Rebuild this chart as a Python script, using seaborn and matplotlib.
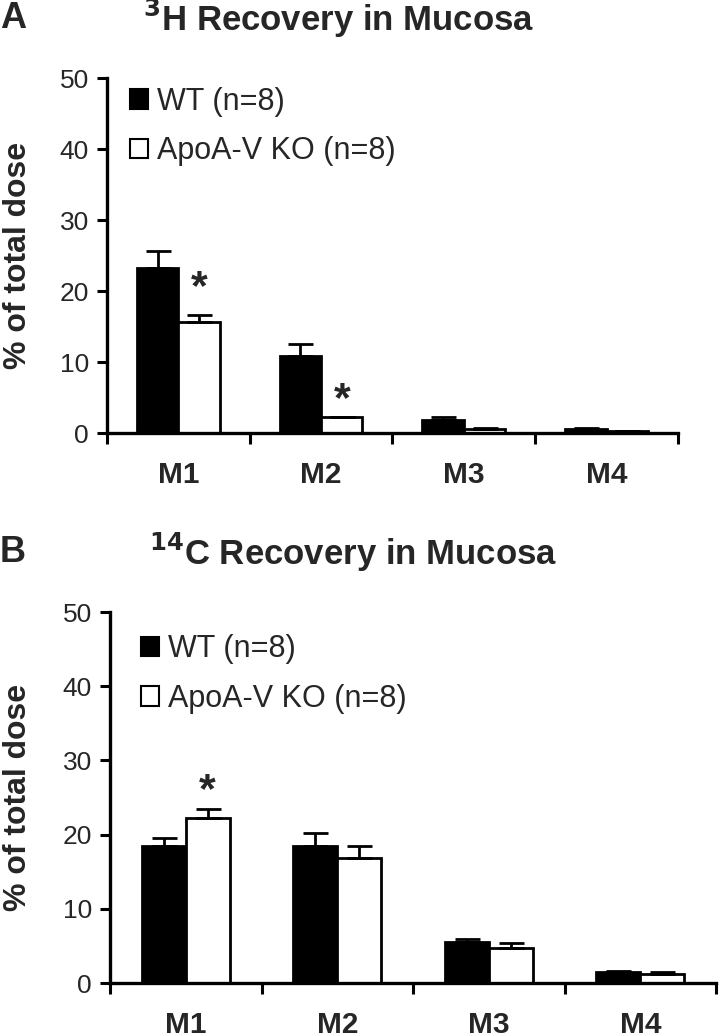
import numpy as np
import pandas as pd
import matplotlib
matplotlib.use("Agg")
import matplotlib.pyplot as plt
from matplotlib.container import BarContainer
import seaborn as sns

sns.set_style("white")
plt.rcParams['font.family'] = ['Liberation Sans', 'DejaVu Sans']

categories = ["M1", "M2", "M3", "M4"]
groups = ["WT (n=8)", "ApoA-V KO (n=8)"]

h3_wt = [23.3, 10.8, 1.85, 0.5]
h3_wt_err = [2.3, 1.8, 0.35, 0.15]
h3_ko = [15.6, 2.2, 0.6, 0.25]
h3_ko_err = [1.0, 0.1, 0.1, 0.05]
h3_stars = [("M1", 1, 20.4), ("M2", 1, 4.6)]

c14_wt = [18.5, 18.4, 5.55, 1.5]
c14_wt_err = [1.1, 1.8, 0.45, 0.17]
c14_ko = [22.3, 16.8, 4.74, 1.2]
c14_ko_err = [1.2, 1.6, 0.66, 0.24]
c14_stars = [("M1", 1, 25.9)]

yticks = [0, 10, 20, 30, 40, 50]

fig = plt.figure(figsize=(7.2, 10.34), dpi=100)
ax_a = fig.add_axes([0.1486, 0.5812, 0.793, 0.3433])
ax_b = fig.add_axes([0.1528, 0.0493, 0.8417, 0.3588])


def panel(ax, wt, wt_err, ko, ko_err, stars, leg_anchor, label_x):
    df = pd.DataFrame({
        "cat": categories * 2,
        "grp": [groups[0]] * 4 + [groups[1]] * 4,
        "val": list(wt) + list(ko),
    })
    sns.barplot(data=df, x="cat", y="val", hue="grp", order=categories,
                hue_order=groups, palette=["black", "white"], edgecolor="black",
                linewidth=2, width=0.58, errorbar=None, saturation=1, ax=ax)
    bars = [c for c in ax.containers if isinstance(c, BarContainer)]
    errs = [wt_err, ko_err]
    for gi, cont in enumerate(bars):
        xs = [p.get_x() + p.get_width() / 2 for p in cont.patches]
        hs = [p.get_height() for p in cont.patches]
        ax.errorbar(xs, hs, yerr=[np.zeros(len(hs)), errs[gi]], fmt="none",
                    ecolor="black", elinewidth=2, capsize=9, capthick=2, zorder=5)
    for cat, gi, y in stars:
        p = bars[gi].patches[categories.index(cat)]
        ax.text(p.get_x() + p.get_width() / 2, y, "*", ha="center", va="center",
                fontsize=31, fontweight="bold")
    ax.set_ylim(0, 50)
    ax.set_xlim(-0.5, 3.5)
    ax.set_yticks(yticks)
    ax.set_yticklabels([str(t) for t in yticks], fontsize=19)
    ax.set_xticks(range(4))
    ax.set_xticklabels(categories, fontsize=21.5, fontweight="bold")
    ax.set_xticks(np.arange(-0.5, 4.0, 1.0), minor=True)
    ax.tick_params(axis="x", which="major", length=0, pad=20)
    ax.tick_params(axis="x", which="minor", length=8, width=2.2, direction="out",
                   color="black", bottom=True)
    ax.tick_params(axis="y", which="major", length=7, width=2.2, direction="out",
                   color="black", pad=6, left=True)
    for s in ["top", "right"]:
        ax.spines[s].set_visible(False)
    for s in ["left", "bottom"]:
        ax.spines[s].set_color("black")
        ax.spines[s].set_linewidth(2.4)
    ax.set_xlabel("")
    ax.set_ylabel("% of total dose", fontsize=23, fontweight="bold")
    ax.yaxis.set_label_coords(label_x, 0.5)
    leg = ax.legend(loc="upper left", bbox_to_anchor=leg_anchor, frameon=False,
                    fontsize=22, handlelength=0.6, handleheight=0.6,
                    handletextpad=0.28, labelspacing=0.64, borderpad=0, borderaxespad=0)
    for h in leg.legend_handles:
        h.set_edgecolor("black")
        h.set_linewidth(1.5)


panel(ax_a, h3_wt, h3_wt_err, h3_ko, h3_ko_err, h3_stars, (0.04, 0.975), -0.130)
panel(ax_b, c14_wt, c14_wt_err, c14_ko, c14_ko_err, c14_stars, (0.051, 0.94), -0.127)

fig.text(0.0, 1 - 19 / 1034, "A", fontsize=26, fontweight="bold", ha="left", va="center")
fig.text(143 / 720, 1 - 18 / 1034, r"$^{\mathbf{3}}$H Recovery in Mucosa", fontsize=25,
         fontweight="bold", ha="left", va="center")
fig.text(0.0, 1 - 553 / 1034, "B", fontsize=26, fontweight="bold", ha="left", va="center")
fig.text(149 / 720, 1 - 552 / 1034, r"$^{\mathbf{14}}$C Recovery in Mucosa", fontsize=25,
         fontweight="bold", ha="left", va="center")

fig.savefig("out.png", dpi=100)
